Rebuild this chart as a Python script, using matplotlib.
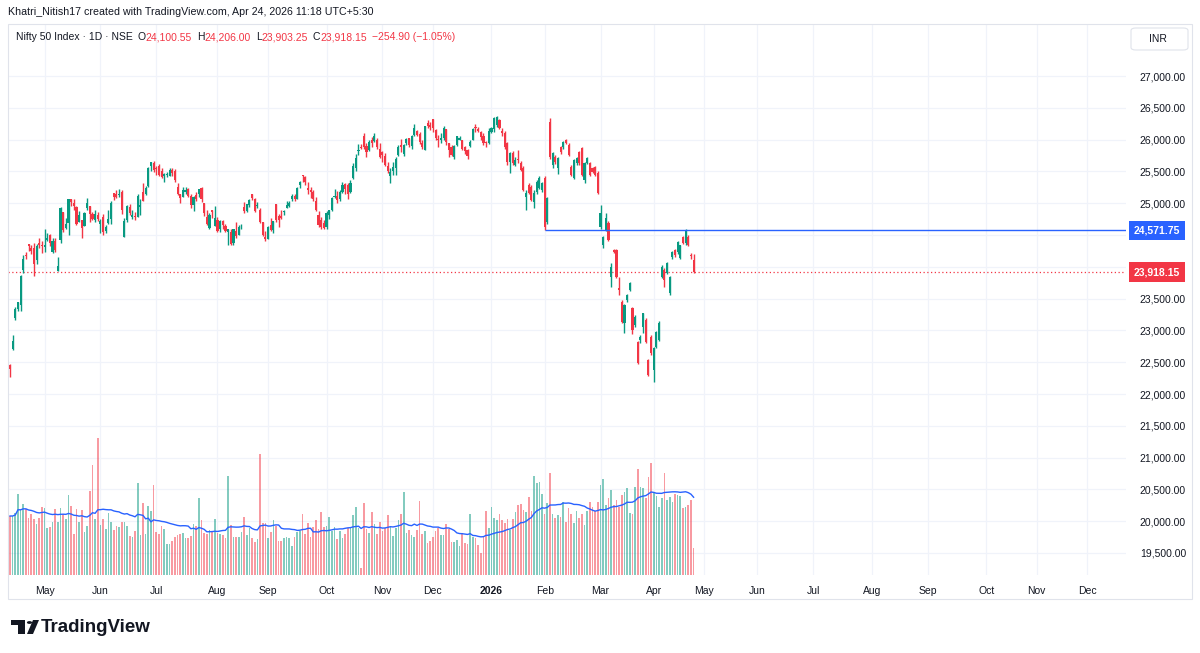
import matplotlib
matplotlib.use("Agg")
import matplotlib.pyplot as plt
import matplotlib.transforms as mtransforms
from matplotlib.patches import Rectangle, Circle, Polygon, FancyBboxPatch
import numpy as np
import pandas as pd

# daily OHLC, Nifty 50, Apr 9 2025 .. Apr 24 2026
opens = [
    22460, 22700, 23190, 23340, 23400, 23950, 24180, 24360, 24300, 24290, 24100, 24370, 24350,
    24310, 24420, 24500, 24230, 24410, 23940, 24420, 24860, 24610, 24690, 25060, 25010, 24940, 24700, 24730, 24640, 24920, 24960, 24830, 24730, 24810,
    24670, 24790, 24560, 24690, 24750, 25160, 25140, 25130, 25170, 24470, 24730, 24940, 24790, 24800, 24790, 24940, 25180, 25150, 25270, 25580, 25630,
    25550, 25590, 25500, 25430, 25450, 25430, 25520, 25510, 25260, 25150, 25090, 25180, 25230, 25110, 24970, 25130, 25140, 25240, 25010, 24780, 24610, 24890, 24640,
    24730, 24600, 24720, 24640, 24540, 24550, 24370, 24560, 24500, 24620, 24940, 24870, 24970, 25140, 25070, 24950, 24900, 24700, 24470,
    24430, 24650, 24580, 24980, 24800, 24800, 24860, 24920, 24950, 25070, 25120, 25070, 25280, 25440, 25410, 25240, 25210, 25170, 25030, 24820, 24730, 24690,
    24620, 24810, 24900, 25090, 25110, 25070, 25170, 25300, 25280, 25180, 25400, 25550, 25820, 25880, 26060, 25900, 25840, 25990, 25980, 25990, 25860,
    25800, 25740, 25590, 25430, 25500, 25560, 25760, 25920, 25780, 25940, 26020, 25900, 26080, 26130, 26090, 25950, 25840, 26260, 26230,
    26320, 26150, 26000, 25990, 26020, 26160, 25940, 25880, 25730, 25920, 26000, 25990, 25880, 25840, 25900, 26000, 26200, 26170, 26120, 26060, 25960, 25950,
    26120, 26160, 26230, 26310, 26130, 26100, 25950, 25650, 25790, 25600, 25700, 25630, 25550, 25100, 25290, 25250, 25020, 25180, 25240, 25210,
    25400, 24700, 26280, 25600, 25720, 25550, 25880, 25880, 25990, 25920, 25570, 25400, 25630, 25800, 25870, 25370, 25630, 25630, 25550, 25570, 25480,
    24630, 24340, 24580, 24690, 23840, 24260, 24260, 23670, 23450, 23120, 23480, 23640, 23350, 23090, 22820, 22850, 23050, 23160, 22530, 22900,
    22380, 22740, 22850, 23840, 23950, 23900, 23590, 24150, 24260, 24230, 24140, 24470, 24370, 24470, 24190, 24100.55,
]
highs = [
    22470, 22920, 23370, 23450, 23870, 24190, 24240, 24360, 24350, 24370, 24360, 24460, 24400,
    24590, 24530, 24510, 24450, 24450, 24160, 24940, 24860, 24770, 25070, 25070, 25060, 24950, 24880, 24730, 24860, 25080, 24960, 24860, 24890, 24860,
    24750, 24830, 24650, 24900, 25030, 25160, 25200, 25220, 25200, 24760, 24970, 24980, 24900, 24860, 25140, 25060, 25320, 25270, 25570, 25650, 25670,
    25590, 25610, 25550, 25470, 25490, 25550, 25550, 25530, 25320, 25150, 25250, 25260, 25240, 25140, 25110, 25180, 25230, 25250, 25010, 24890, 24850, 24900, 24960,
    24780, 24740, 24730, 24670, 24600, 24590, 24600, 24700, 24660, 24670, 25020, 24990, 25070, 25150, 25080, 25020, 24920, 24700, 24570,
    24640, 24760, 24720, 24980, 24830, 24890, 24890, 25040, 25040, 25140, 25140, 25260, 25350, 25450, 25430, 25330, 25260, 25210, 25090, 24870, 24790, 24730,
    24870, 24900, 25100, 25220, 25190, 25200, 25330, 25310, 25310, 25370, 25630, 25780, 25930, 25930, 26100, 25950, 26000, 26040, 26100, 26030, 25950,
    25820, 25790, 25650, 25550, 25650, 25720, 25910, 26010, 25930, 26030, 26030, 26070, 26250, 26150, 26120, 26000, 26220, 26310, 26280,
    26330, 26160, 26070, 26100, 26210, 26170, 25950, 25920, 25920, 26060, 26060, 26000, 25900, 25860, 25990, 26190, 26240, 26200, 26140, 26100, 25980, 26190,
    26200, 26350, 26370, 26330, 26180, 26130, 25960, 25800, 25820, 25720, 25840, 25660, 25580, 25200, 25310, 25280, 25200, 25360, 25420, 25340,
    25430, 25100, 26340, 25800, 25760, 25720, 25900, 25980, 26010, 25940, 25600, 25700, 25730, 25820, 25880, 25650, 25730, 25650, 25570, 25590, 25500,
    24970, 24480, 24850, 24720, 24060, 24280, 24280, 23840, 23480, 23420, 23580, 23760, 23370, 23240, 22840, 22920, 23280, 23190, 22550, 22930,
    22740, 22990, 23140, 24030, 23980, 24080, 23860, 24250, 24280, 24400, 24350, 24490, 24600, 24500, 24220, 24206.00,
]
lows = [
    22270, 22690, 23170, 23300, 23300, 23900, 24120, 24250, 24200, 23850, 24050, 24300, 24220,
    24240, 24400, 24330, 24220, 24240, 23940, 24380, 24550, 24600, 24500, 24950, 24900, 24650, 24700, 24460, 24640, 24900, 24700, 24740, 24700, 24720,
    24530, 24500, 24530, 24670, 24670, 25050, 25080, 25100, 24830, 24470, 24700, 24810, 24750, 24730, 24780, 24820, 25030, 25130, 25260, 25510, 25490,
    25450, 25430, 25390, 25330, 25410, 25420, 25420, 25340, 25130, 25000, 25090, 25150, 25100, 24920, 24880, 25040, 25100, 25020, 24800, 24650, 24600, 24770, 24640,
    24540, 24540, 24600, 24540, 24340, 24340, 24350, 24460, 24500, 24590, 24850, 24860, 24940, 25050, 24860, 24920, 24690, 24480, 24400,
    24430, 24570, 24530, 24700, 24620, 24750, 24810, 24920, 24940, 25040, 25040, 25070, 25240, 25330, 25290, 25150, 25080, 25030, 24880, 24630, 24590, 24590,
    24590, 24750, 24880, 25080, 25010, 25030, 25160, 25150, 25060, 25160, 25380, 25510, 25760, 25850, 25860, 25720, 25820, 25880, 25960, 25850, 25710,
    25650, 25580, 25480, 25320, 25450, 25450, 25740, 25810, 25740, 25920, 25880, 25860, 26060, 26050, 25930, 25850, 25840, 26190, 26150,
    26120, 25990, 25890, 25940, 25990, 25920, 25730, 25740, 25700, 25900, 25990, 25840, 25780, 25700, 25890, 25990, 26120, 26120, 26000, 25920, 25880, 25930,
    26100, 26120, 26200, 26170, 26060, 25860, 25600, 25480, 25600, 25580, 25630, 25500, 25190, 24900, 25140, 25030, 24920, 25150, 25220, 25180,
    24571.75, 24680, 25690, 25560, 25620, 25460, 25780, 25860, 25930, 25740, 25420, 25380, 25600, 25600, 25420, 25320, 25610, 25420, 25470, 25420, 25140,
    24600, 24300, 24560, 24400, 23680, 24220, 23830, 23560, 23120, 22960, 23450, 23620, 22950, 23060, 22470, 22800, 22960, 22800, 22280, 22620,
    22190, 22720, 22830, 23820, 23680, 23880, 23560, 24130, 24160, 24200, 24120, 24360, 24350, 24320, 24120, 23903.25,
]
closes = [
    22400, 22830, 23330, 23440, 23850, 24130, 24170, 24330, 24250, 24040, 24330, 24340, 24330,
    24350, 24460, 24380, 24410, 24270, 24010, 24920, 24580, 24670, 25060, 25020, 24950, 24680, 24810, 24610, 24850, 25000, 24830, 24750, 24830, 24750,
    24720, 24540, 24620, 24750, 25000, 25100, 25100, 25140, 24890, 24720, 24950, 24850, 24810, 24790, 25110, 24970, 25040, 25240, 25550, 25640, 25520,
    25540, 25450, 25410, 25460, 25460, 25520, 25480, 25360, 25150, 25080, 25200, 25210, 25110, 24970, 25090, 25060, 25220, 25060, 24840, 24680, 24820, 24860, 24770,
    24570, 24720, 24650, 24570, 24600, 24360, 24590, 24490, 24620, 24630, 24880, 24980, 25050, 25080, 24870, 24970, 24710, 24500, 24430,
    24630, 24580, 24720, 24730, 24740, 24770, 24870, 24970, 25010, 25110, 25070, 25240, 25330, 25420, 25330, 25200, 25170, 25060, 24890, 24650, 24630, 24610,
    24840, 24890, 25080, 25110, 25050, 25180, 25290, 25230, 25150, 25320, 25590, 25710, 25840, 25870, 25890, 25800, 25970, 25940, 26050, 25880, 25720,
    25760, 25600, 25510, 25490, 25570, 25690, 25880, 25880, 25910, 26010, 25910, 26050, 26190, 26070, 25960, 25880, 26210, 26220, 26200,
    26180, 26030, 25990, 26030, 26190, 25960, 25840, 25760, 25900, 26050, 26030, 25860, 25820, 25740, 25970, 26170, 26180, 26140, 26040, 25940, 25940, 26130,
    26180, 26340, 26350, 26180, 26110, 25880, 25650, 25790, 25630, 25680, 25680, 25520, 25210, 25160, 25160, 25050, 25160, 25330, 25400, 25320,
    24620, 25080, 25720, 25790, 25650, 25710, 25800, 25960, 25950, 25760, 25440, 25680, 25710, 25630, 25440, 25630, 25710, 25440, 25490, 25440, 25160,
    24850, 24470, 24770, 24420, 24000, 24230, 23840, 23630, 23130, 23400, 23560, 23750, 23000, 23210, 22490, 22900, 23270, 22820, 22300, 22640,
    22720, 22970, 23120, 24000, 23790, 24060, 23840, 24230, 24180, 24390, 24340, 24380, 24580, 24340, 24173.05, 23918.15,
]
# volume, relative units (bar height)
volumes = [
    59, 59, 62, 81, 65, 71, 66, 57, 61, 56, 51, 57, 68, 67, 47, 48, 53, 66, 53, 67,
    61, 56, 80, 69, 41, 66, 53, 65, 43, 49, 84, 110, 56, 137, 50, 56, 46, 62, 53, 45,
    49, 48, 53, 53, 49, 39, 38, 44, 92, 40, 72, 41, 69, 64, 90, 43, 41, 49, 46, 31,
    31, 34, 38, 40, 41, 42, 37, 37, 39, 51, 49, 77, 55, 42, 41, 45, 43, 56, 42, 41,
    40, 37, 99, 50, 38, 38, 38, 43, 58, 40, 47, 37, 33, 36, 121, 52, 52, 37, 43, 55,
    49, 34, 34, 37, 38, 37, 29, 38, 43, 44, 61, 41, 52, 38, 48, 55, 46, 63, 48, 49,
    58, 44, 48, 36, 44, 37, 41, 47,
    47, 60, 68, 47, 7, 72, 46, 42, 63, 51, 41, 53, 44, 47, 60, 49, 39, 47, 55, 61,
    83, 42, 45, 40, 38, 45, 74, 41, 44, 32, 34, 38, 44, 47, 40, 40, 51, 46, 33, 33,
    35, 29, 42, 32, 31, 61, 38, 37, 30, 22, 38, 64, 47, 68, 57, 55, 61, 55, 52, 56,
    45, 56, 63, 70, 71, 65, 63, 78, 64, 99, 92, 93, 81, 61, 72, 102, 61, 57, 60, 58,
    73, 53, 67, 61, 52, 64, 57, 61, 50, 64, 73, 68, 64, 73, 90, 96, 70, 77, 85, 70,
    75, 68, 80, 83, 87, 62, 61, 88, 106, 88, 87, 77, 98, 112, 82, 79, 68, 77, 102, 75,
    78, 73, 81, 80, 79, 67, 68, 70, 75, 27,
]

month_labels = ["May", "Jun", "Jul", "Aug", "Sep", "Oct", "Nov", "Dec", "2026", "Feb", "Mar", "Apr",
                "May", "Jun", "Jul", "Aug", "Sep", "Oct", "Nov", "Dec"]
month_pos = [13, 34, 55, 78, 97, 119, 140, 159, 181, 201, 222, 242,
             261, 281, 302, 324, 345, 367, 386, 405]
grid_prices = np.arange(19500, 27001, 500)
# 24,500 sits under the level label, so the scale leaves it out
price_ticks = [p for p in grid_prices if p != 24500]
level_price = 24571.75
level_start = 201

GREEN, RED, BLUE, TXT = "#089981", "#f23645", "#2962ff", "#131722"
W, H = 1200, 653
plt.rcParams["font.family"] = ["Liberation Sans", "DejaVu Sans"]

fig = plt.figure(figsize=(W / 100, H / 100), dpi=100)
pl, pr, pt, pb = 8, 1126, 25, 575
ax = fig.add_axes([pl / W, 1 - pb / H, (pr - pl) / W, (pb - pt) / H])
vax = ax.twinx()

o, h, l, c = map(np.array, (opens, highs, lows, closes))
h = np.maximum(h, np.maximum(o, c))
l = np.minimum(l, np.minimum(o, c))
x = np.arange(len(c))
up = c >= o
cols = np.where(up, GREEN, RED)

ax.vlines(x, l, h, colors=cols, lw=1.0, zorder=3)
ax.bar(x, np.maximum(np.abs(c - o), 12), bottom=np.minimum(o, c), width=0.8,
       color=cols, lw=0, zorder=4)

vcols = [(0.031, 0.6, 0.506, 0.5) if u else (0.949, 0.212, 0.271, 0.5) for u in up]
vax.bar(x, volumes, width=0.62, color=vcols, lw=0)
vol_ma = pd.Series(volumes, dtype=float).rolling(20, min_periods=1).mean()
vax.plot(x, vol_ma, color=BLUE, lw=1)

xmax = (pr - 10) / 2.66
ax.set_xlim(-0.75, xmax)
vax.set_xlim(-0.75, xmax)
ax.set_ylim(27000 - (pb - 76) / 0.0636, 27000 + (76 - pt) / 0.0636)
vax.set_ylim(0, pb - pt)

ax.hlines(level_price, level_start, xmax, color=BLUE, lw=1, zorder=5)
ax.axhline(c[-1], color=RED, lw=0.9, ls=(0, (1, 2)), zorder=2)

ax.set_yticks(grid_prices, minor=True)
ax.yaxis.tick_right()
ax.set_yticks(price_ticks)
ax.set_yticklabels([f"{v:,.2f}" for v in price_ticks])
ax.tick_params(axis="y", which="both", length=0, pad=10, labelsize=7.5, labelcolor=TXT)
ax.set_xticks(month_pos)
ax.set_xticklabels(month_labels)
ax.tick_params(axis="x", length=0, pad=8, labelsize=7.5, labelcolor=TXT)
for lab in ax.get_xticklabels():
    if lab.get_text() == "2026":
        lab.set_fontweight("bold")
ax.grid(True, which="both", color="#f0f3fa", lw=0.9)
ax.set_axisbelow(True)
vax.set_yticks([])
for a in (ax, vax):
    for s in a.spines.values():
        s.set_visible(False)

trans = mtransforms.blended_transform_factory(ax.transAxes, ax.transData)
for val, col in ((level_price, BLUE), (c[-1], RED)):
    ax.text(1.0, val, f"{val:,.2f}", transform=mtransforms.offset_copy(trans, fig=fig, x=8, y=0, units="dots"),
            ha="left", va="center", color="white", fontsize=7.5, fontweight="bold", clip_on=False, zorder=10,
            bbox=dict(boxstyle="square,pad=0.45", fc=col, ec="none"))

# frame
fig.add_artist(Rectangle((pl / W, 1 - 599 / H), (1192 - pl) / W, (599 - 24) / H, transform=fig.transFigure,
                         fill=False, ec="#e0e3eb", lw=0.8))
fig.add_artist(FancyBboxPatch((1131 / W, 1 - 50 / H), 57 / W, 22 / H, transform=fig.transFigure,
                              boxstyle="round,pad=0,rounding_size=0.004", fc="white", ec="#e0e3eb", lw=0.8))
fig.text(1158 / W, 1 - 39 / H, "INR", ha="center", va="center", fontsize=7.5, color=TXT)

fig.text(8 / W, 1 - 12 / H, "Khatri_Nitish17 created with TradingView.com, Apr 24, 2026 11:18 UTC+5:30",
         ha="left", va="center", fontsize=7.7, color=TXT)

chg = c[-1] - c[-2]
pct = chg / c[-2] * 100
parts = [("Nifty 50 Index · 1D · NSE", TXT, 5), ("O", TXT, 0), (f"{o[-1]:,.2f}", RED, 5),
         ("H", TXT, 0), (f"{h[-1]:,.2f}", RED, 5), ("L", TXT, 0), (f"{l[-1]:,.2f}", RED, 5),
         ("C", TXT, 0), (f"{c[-1]:,.2f}", RED, 5), (f"{chg:,.2f} ({pct:.2f}%)".replace("-", "\u2212"), RED, 0)]
renderer = fig.canvas.get_renderer()
xp = 16
for txt, col, gap in parts:
    t = fig.text(xp / W, 1 - 37 / H, txt, ha="left", va="center", fontsize=7.5, color=col)
    xp += t.get_window_extent(renderer).width + gap


# TradingView logo
def fx(px_):
    return px_ / W


def fy(py_):
    return 1 - py_ / H


fig.add_artist(Rectangle((fx(11), fy(625)), 14 / W, 5 / H, transform=fig.transFigure, fc=TXT, ec="none"))
fig.add_artist(Rectangle((fx(18), fy(634)), 7 / W, 14 / H, transform=fig.transFigure, fc=TXT, ec="none"))
fig.add_artist(Circle((fx(29.5), fy(622.5)), 2.6 / W, transform=fig.transFigure, fc=TXT, ec="none"))
fig.add_artist(Polygon([(fx(27), fy(634)), (fx(33), fy(620)), (fx(39), fy(620)), (fx(33), fy(634))],
                       transform=fig.transFigure, fc=TXT, ec="none"))
fig.text(fx(41), fy(627), "TradingView", ha="left", va="center", fontsize=13.5, fontweight="bold", color=TXT)

fig.savefig("out.png", dpi=100, facecolor="white")
